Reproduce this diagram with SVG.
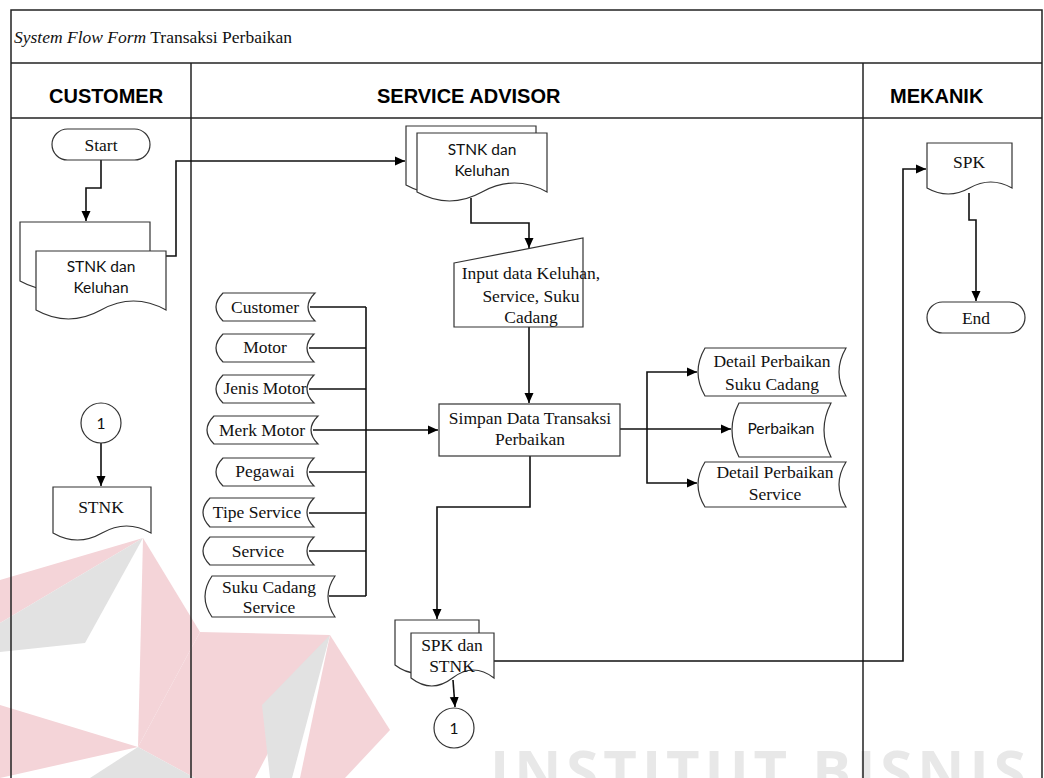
<svg xmlns="http://www.w3.org/2000/svg" width="1044" height="778" viewBox="0 0 1044 778">
  <style>
    .frame { fill: none; stroke: #222; stroke-width: 1.5; }
    .shape { fill: #fff; stroke: #333; stroke-width: 1.2; }
    .conn { fill: none; stroke: #111; stroke-width: 1.6; }
    .serif { font-family: "Liberation Serif", "Times New Roman", serif; font-size: 17.5px; fill: #111; }
    .sans { font-family: Lato, "Noto Sans", sans-serif; font-size: 15.5px; fill: #111; }
    .head { font-family: "Liberation Sans", Arial, sans-serif; font-size: 20px; font-weight: bold; fill: #000; }
    .mid { text-anchor: middle; }
    .wm-red { fill: #f4d4d8; }
    .wm-grey { fill: #e2e2e2; }
  </style>
  <defs>
    <marker id="arrow" markerUnits="userSpaceOnUse" markerWidth="10" markerHeight="10" refX="10" refY="5" orient="auto">
      <path d="M0,0.5 L10,5 L0,9.5 Z" fill="#000"/>
    </marker>
  </defs>

  <rect width="1044" height="778" fill="#fff"/>

  <!-- background watermark -->
  <g id="watermark">
    <polygon class="wm-red" points="143,538 0,580 0,623"/>
    <polygon class="wm-grey" points="143,538 0,623 0,652 85,643"/>
    <polygon class="wm-red" points="143,538 200,632 138,747"/>
    <polygon class="wm-red" points="200,632 330,635 255,778 195,778 138,747"/>
    <polygon class="wm-grey" points="330,635 262,705 270,778 292,778"/>
    <polygon class="wm-red" points="330,635 390,730 345,778 300,778"/>
    <polygon class="wm-red" points="0,705 138,747 0,778"/>
    <polygon class="wm-grey" points="138,747 195,778 90,778"/>
    <text x="490" y="792" font-family="'Open Sans', sans-serif" font-weight="700" font-size="58" letter-spacing="5" fill="#e8e8e8">INSTITUT BISNIS</text>
  </g>

  <!-- swimlane frame -->
  <g id="frame">
    <path class="frame" d="M11,790 V10 H1042 V790"/>
    <line class="frame" x1="11" y1="63" x2="1042" y2="63"/>
    <line class="frame" x1="11" y1="118" x2="1042" y2="118"/>
    <line class="frame" x1="191" y1="63" x2="191" y2="790"/>
    <line class="frame" x1="863" y1="63" x2="863" y2="790"/>
    <text class="serif" x="14" y="43" font-size="18.2"><tspan font-style="italic">System Flow Form</tspan> Transaksi Perbaikan</text>
    <text class="head" x="49" y="103">CUSTOMER</text>
    <text class="head" x="377" y="103">SERVICE ADVISOR</text>
    <text class="head" x="890" y="103">MEKANIK</text>
  </g>

  <!-- connectors -->
  <g id="connectors">
    <path class="conn" d="M101,160 V188 H86 V221" marker-end="url(#arrow)"/>
    <path class="conn" d="M166,256 H176 V161 H405" marker-end="url(#arrow)"/>
    <path class="conn" d="M471,198 V223 H529 V248" marker-end="url(#arrow)"/>
    <path class="conn" d="M529,327 V403" marker-end="url(#arrow)"/>
    <path class="conn" d="M310,307 H366 M309,348 H366 M309,389 H366 M313,430 H366 M309,472 H366 M309,513 H366 M309,551 H366 M329,596 H366 M366,307 V596"/>
    <path class="conn" d="M366,430 H438" marker-end="url(#arrow)"/>
    <path class="conn" d="M620,429 H731" marker-end="url(#arrow)"/>
    <path class="conn" d="M647,429 V372 H697" marker-end="url(#arrow)"/>
    <path class="conn" d="M647,429 V483 H697" marker-end="url(#arrow)"/>
    <path class="conn" d="M530,456 V507 H437 V619" marker-end="url(#arrow)"/>
    <path class="conn" d="M453,680 L455,707" marker-end="url(#arrow)"/>
    <path class="conn" d="M494,661 H903 V169 H926" marker-end="url(#arrow)"/>
    <path class="conn" d="M969,193 V220 H976 V301" marker-end="url(#arrow)"/>
    <path class="conn" d="M101,443 V486" marker-end="url(#arrow)"/>
  </g>

  <!-- Customer lane -->
  <g id="start">
    <rect class="shape" x="52" y="129" width="98" height="31" rx="15.5"/>
    <text class="serif mid" x="101" y="151">Start</text>
  </g>
  <g id="doc-stnk-keluhan-customer">
    <path class="shape" d="M20,222 H150 V281 Q117.5,263 85,281 T20,281 Z"/>
    <path class="shape" d="M36,251 H166 V310 Q133.5,292 101,310 T36,310 Z"/>
    <text class="sans mid" x="101" y="272">STNK dan</text>
    <text class="sans mid" x="101" y="293">Keluhan</text>
  </g>
  <g id="connector-1-in">
    <circle class="shape" cx="101" cy="423" r="20"/>
    <text class="sans mid" x="101" y="429">1</text>
  </g>
  <g id="doc-stnk">
    <path class="shape" d="M53,487 H151 V533 Q126.5,519 102,533 T53,533 Z"/>
    <text class="serif mid" x="101" y="513">STNK</text>
  </g>

  <!-- Service advisor lane -->
  <g id="doc-stnk-keluhan-sa">
    <path class="shape" d="M406,126 H536 V185 Q503.5,167 471,185 T406,185 Z"/>
    <path class="shape" d="M417,133 H547 V192 Q514.5,174 482,192 T417,192 Z"/>
    <text class="sans mid" x="482" y="155">STNK dan</text>
    <text class="sans mid" x="482" y="176">Keluhan</text>
  </g>
  <g id="input-keluhan">
    <path class="shape" d="M454,263 L583,238 V327 H454 Z"/>
    <text class="serif mid" x="531" y="279" font-size="18">Input data Keluhan,</text>
    <text class="serif mid" x="531" y="302" font-size="18">Service, Suku</text>
    <text class="serif mid" x="531" y="323" font-size="18">Cadang</text>
  </g>
  <g id="simpan-transaksi">
    <rect class="shape" x="439" y="404" width="181" height="52"/>
    <text class="serif mid" x="530" y="424">Simpan Data Transaksi</text>
    <text class="serif mid" x="530" y="445">Perbaikan</text>
  </g>

  <g id="db-customer">
    <path class="shape" d="M223,293 H315 Q301,307 315,321 H223 Q209,307 223,293 Z"/>
    <text class="serif mid" x="265" y="313">Customer</text>
  </g>
  <g id="db-motor">
    <path class="shape" d="M223,334 H314 Q300,348 314,362 H223 Q209,348 223,334 Z"/>
    <text class="serif mid" x="265" y="353">Motor</text>
  </g>
  <g id="db-jenis-motor">
    <path class="shape" d="M223,375 H314 Q300,389 314,403 H223 Q209,389 223,375 Z"/>
    <text class="serif mid" x="265" y="394">Jenis Motor</text>
  </g>
  <g id="db-merk-motor">
    <path class="shape" d="M214,416 H318 Q304,430 318,444 H214 Q200,430 214,416 Z"/>
    <text class="serif mid" x="262" y="436">Merk Motor</text>
  </g>
  <g id="db-pegawai">
    <path class="shape" d="M223,458 H314 Q300,472 314,486 H223 Q209,472 223,458 Z"/>
    <text class="serif mid" x="265" y="477">Pegawai</text>
  </g>
  <g id="db-tipe-service">
    <path class="shape" d="M210,498 H314 Q300,512.5 314,527 H210 Q196,512.5 210,498 Z"/>
    <text class="serif mid" x="257" y="518">Tipe Service</text>
  </g>
  <g id="db-service">
    <path class="shape" d="M210,537 H314 Q300,551 314,565 H210 Q196,551 210,537 Z"/>
    <text class="serif mid" x="258" y="557" fill="#333">Service</text>
  </g>
  <g id="db-suku-cadang-service">
    <path class="shape" d="M212,576 H335 Q321,596.5 335,617 H212 Q198,596.5 212,576 Z"/>
    <text class="serif mid" x="269" y="593">Suku Cadang</text>
    <text class="serif mid" x="269" y="613">Service</text>
  </g>

  <g id="db-detail-suku-cadang">
    <path class="shape" d="M705,348 H846 Q832,372 846,396 H705 Q691,372 705,348 Z"/>
    <text class="serif mid" x="772" y="367">Detail Perbaikan</text>
    <text class="serif mid" x="772" y="390">Suku Cadang</text>
  </g>
  <g id="db-perbaikan">
    <path class="shape" d="M739,403 H831 Q817,430 831,457 H739 Q725,430 739,403 Z"/>
    <text class="sans mid" x="781" y="434" font-size="16">Perbaikan</text>
  </g>
  <g id="db-detail-service">
    <path class="shape" d="M705,462 H846 Q832,484.5 846,507 H705 Q691,484.5 705,462 Z"/>
    <text class="serif mid" x="775" y="478">Detail Perbaikan</text>
    <text class="serif mid" x="775" y="500">Service</text>
  </g>

  <g id="doc-spk-stnk">
    <path class="shape" d="M395,620 H479 V665 Q458,649 437,665 T395,665 Z"/>
    <path class="shape" d="M411,633 H494 V678 Q473.25,662 452.5,678 T411,678 Z"/>
    <text class="serif mid" x="452" y="651">SPK dan</text>
    <text class="serif mid" x="452" y="672">STNK</text>
  </g>
  <g id="connector-1-out">
    <circle class="shape" cx="454" cy="728" r="20"/>
    <text class="sans mid" x="454" y="734">1</text>
  </g>

  <!-- Mekanik lane -->
  <g id="doc-spk">
    <path class="shape" d="M927,143 H1012 V188 Q990.75,176 969.5,188 T927,188 Z"/>
    <text class="serif mid" x="969" y="168">SPK</text>
  </g>
  <g id="end">
    <rect class="shape" x="927" y="302" width="98" height="31" rx="15.5"/>
    <text class="serif mid" x="976" y="324">End</text>
  </g>
</svg>
